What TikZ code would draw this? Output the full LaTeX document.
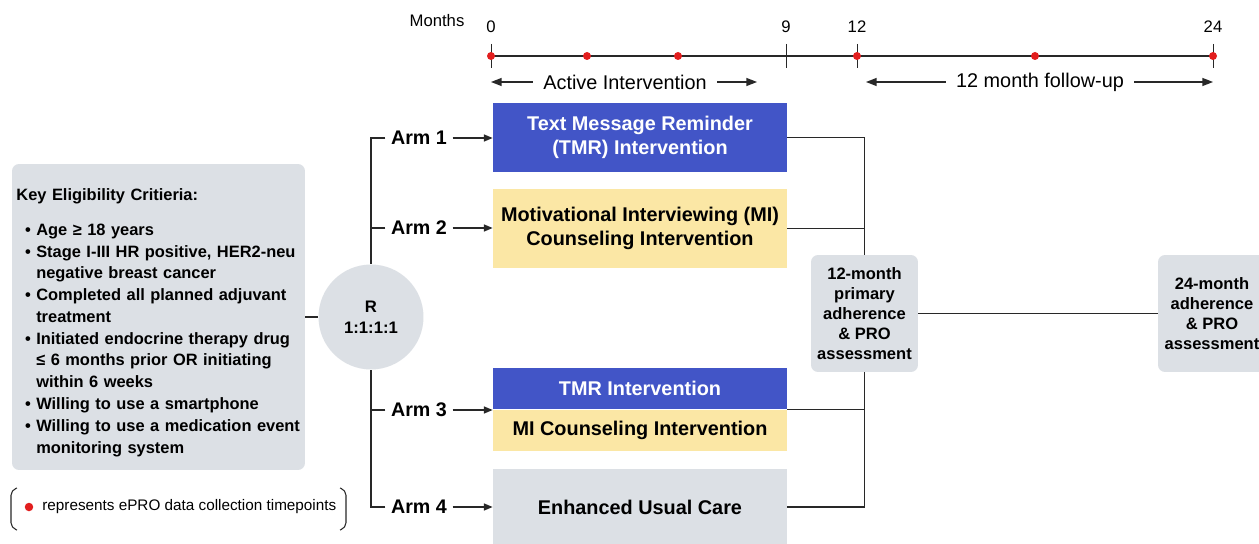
\documentclass[tikz,border=0pt]{standalone}
\usepackage{fontspec}
\setmainfont{Liberation Sans}
\usetikzlibrary{arrows.meta,positioning}
\definecolor{tmrblue}{RGB}{66,85,199}
\definecolor{miyellow}{RGB}{251,231,165}
\definecolor{boxgray}{RGB}{220,224,229}
\definecolor{dotred}{RGB}{226,30,30}
\definecolor{linegray}{RGB}{40,40,40}
\tikzset{
    arm box/.style={
        rectangle,minimum width=5.88cm,inner sep=0pt,
        align=center,
        font=\bfseries\fontsize{11.3}{13.8}\selectfont
    },
    gray box/.style={fill=boxgray,rounded corners=4pt,align=center,inner sep=0pt},
    arm label/.style={inner xsep=3pt,inner ysep=0pt,font=\bfseries\fontsize{11.2}{13}\selectfont},
    month label/.style={inner sep=0pt,font=\fontsize{9.5}{11}\selectfont},
    span label/.style={inner xsep=0.2cm,inner ysep=0pt,font=\fontsize{11.3}{13}\selectfont},
    link/.style={draw=linegray,line width=0.8pt},
    epro dot/.style={circle,fill=dotred,inner sep=0pt,minimum size=0.16cm},
    >={Triangle[length=5pt,width=4pt]}
}
\newcommand{\critem}[1]{\par\hangindent=13.8pt\hangafter=1\noindent\hspace*{7.5pt}\makebox[6.3pt][l]{\textbullet}#1}

\begin{document}
\begin{tikzpicture}[x=0.02cm,y=-0.02cm]
\useasboundingbox (0,0) rectangle (1259,544);
\fill[white] (0,0) rectangle (1259,544);
% timeline
\coordinate (t0) at (491,56);
\coordinate (t24) at (1213,56);
\draw[line width=1.1pt,linegray] (t0) -- (t24);
\foreach \x in {491,786,857,1213}
    \draw[line width=0.5pt,linegray] (\x,44) -- (\x,68);
\foreach \x in {491,587,678,857,1035,1213}
    \node[epro dot] (dot\x) at (\x,56) {};
\foreach \x/\m in {491/0,786/9,857/12,1213/24}
    \node[month label] (m\m) at (\x,27) {\m};
\node[month label] (months) at (437,21) {Months};
\node[span label] (active) at (625,82) {Active Intervention};
\node[span label] (follow) at (1040,82) {12 month follow-up};
\coordinate (activeend) at (757,82);
\coordinate (followstart) at (866,82);
\draw[link,-{Triangle[length=6pt,width=4.5pt]}] (active.west) -- (active.west -| t0);
\draw[link,-{Triangle[length=6pt,width=4.5pt]}] (active.east) -- (activeend);
\draw[link,-{Triangle[length=6pt,width=4.5pt]}] (follow.west) -- (followstart);
\draw[link,-{Triangle[length=6pt,width=4.5pt]}] (follow.east) -- (follow.east -| t24);
% eligibility
\node[gray box,minimum width=5.86cm,minimum height=6.12cm,text width=5.86cm,align=left,
      font=\bfseries\fontsize{9.35}{12.4}\selectfont] (crit) at (158.5,317) {%
    \rule{0pt}{13pt}\hspace*{2.5pt}Key Eligibility Critieria:\par\vspace{7.5pt}%
    \critem{Age ≥ 18 years}%
    \critem{Stage I-III HR positive, HER2-neu\newline negative breast cancer}%
    \critem{Completed all planned adjuvant\newline treatment}%
    \critem{Initiated endocrine therapy drug\newline ≤ 6 months prior OR initiating\newline within 6 weeks}%
    \critem{Willing to use a smartphone}%
    \critem{Willing to use a medication event\newline monitoring system}\par};
\node[circle,fill=boxgray,minimum size=2.1cm,inner sep=0pt,align=center,
      font=\bfseries\fontsize{9.5}{11.9}\selectfont] (rand) at (371,317) {R\\1:1:1:1};
\draw[link] (crit.east) -- (rand.west);
% arms
\node[arm box,fill=tmrblue,text=white,minimum height=1.38cm] (tmr) at (640,137.5) {Text Message Reminder\\(TMR) Intervention};
\node[arm box,fill=miyellow,minimum height=1.58cm] (mi) at (640,228.5) {Motivational Interviewing (MI)\\Counseling Intervention};
\node[arm box,fill=tmrblue,text=white,minimum height=0.82cm] (tmrcombo) at (640,388.5) {TMR Intervention};
\node[arm box,fill=miyellow,minimum height=0.82cm,below=0pt of tmrcombo] (micombo) {MI Counseling Intervention};
\node[arm box,fill=boxgray,minimum height=1.52cm] (euc) at (640,507) {Enhanced Usual Care};
\foreach \n/\y in {1/138,2/228,3/410,4/507}
    \node[arm label] (arm\n) at (419,\y) {Arm \n};
\draw[link] (arm1.west) -| (rand.north);
\draw[link] (arm2.west) -- (arm2.west -| rand.north);
\draw[link] (arm4.west) -| (rand.south);
\draw[link] (arm3.west) -- (arm3.west -| rand.south);
\draw[link,->] (arm1.east) -- (tmr.west |- arm1.east);
\draw[link,->] (arm2.east) -- (mi.west |- arm2.east);
\draw[link,->] (arm3.east) -- (micombo.west |- arm3.east);
\draw[link,->] (arm4.east) -- (euc.west |- arm4.east);
% assessments
\node[gray box,minimum width=2.14cm,minimum height=2.34cm,
      font=\bfseries\fontsize{9.4}{11.3}\selectfont] (mo12) at (864.5,313.5) {12-month\\primary\\adherence\\\& PRO\\assessment};
\node[gray box,minimum width=2.16cm,minimum height=2.34cm,
      font=\bfseries\fontsize{9.4}{11.3}\selectfont] (mo24) at (1212,313.5) {24-month\\adherence\\\& PRO\\assessment};
\draw[link] (tmr.east) -| (mo12.north);
\draw[link] (mi.east) -- (mi.east -| mo12.north);
\draw[link] (micombo.north east) -- (micombo.north east -| mo12.south);
\draw[link] (euc.east) -| (mo12.south);
\draw[link] (mo12.east) -- (mo24.west);
% legend
\node[epro dot,minimum size=0.17cm] (legdot) at (29,507) {};
\node[anchor=west,inner sep=0pt,font=\fontsize{8.7}{10}\selectfont] (legend) at (42,507) {represents ePRO data collection timepoints};
\draw[line width=0.6pt,linegray,rounded corners=3pt] (17,488) -- (11,490) -- (11,528) -- (17,530);
\draw[line width=0.6pt,linegray,rounded corners=3pt] (340,488) -- (346,490) -- (346,528) -- (340,530);
\end{tikzpicture}
\end{document}
